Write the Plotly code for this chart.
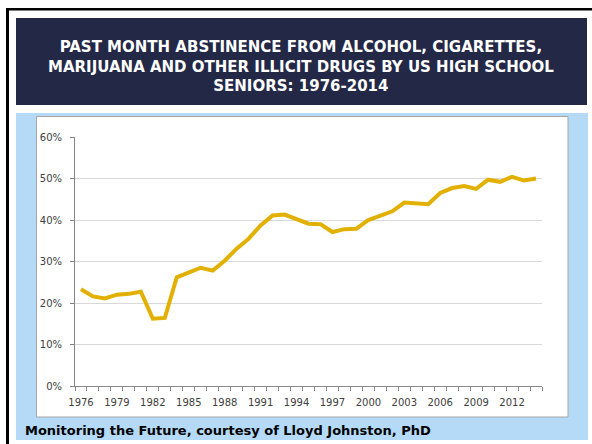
import plotly.graph_objects as go

# ---- data ----
years = list(range(1976, 2015))
abstinence_pct = [23.3, 21.6, 21.1, 22.0, 22.2, 22.7, 16.2, 16.4, 26.2, 27.3,
                  28.5, 27.8, 30.2, 33.1, 35.5, 38.7, 41.1, 41.3, 40.1, 39.1,
                  39.0, 37.1, 37.8, 37.9, 40.0, 41.0, 42.1, 44.2, 43.9, 43.8,
                  46.5, 47.7, 48.2, 47.5, 49.7, 49.2, 50.4, 49.5, 50.0]
x_tick_years = list(range(1976, 2014, 3))
y_ticks = [0, 0.1, 0.2, 0.3, 0.4, 0.5, 0.6]
title_text = ("PAST MONTH ABSTINENCE FROM ALCOHOL, CIGARETTES,<br>"
              "MARIJUANA AND OTHER ILLICIT DRUGS BY US HIGH SCHOOL<br>"
              "SENIORS: 1976-2014")
caption_text = "Monitoring the Future, courtesy of Lloyd Johnston, PhD"

W, H = 592, 444
L, R, T, B = 75, 50, 137, 58
PW, PH = W - L - R, H - T - B


def px(x):
    return (x - L) / PW


def py(y):
    return (H - B - y) / PH


fig = go.Figure()
fig.add_trace(go.Scatter(
    x=years, y=[v / 100 for v in abstinence_pct], mode="lines",
    line=dict(color="#E2B000", width=4), hoverinfo="x+y", showlegend=False))

shapes = []
# outer black frame
shapes.append(dict(type="rect", xref="paper", yref="paper", layer="below",
                   x0=px(6), x1=px(9), y0=py(444), y1=py(8),
                   fillcolor="#000000", line=dict(width=0)))
shapes.append(dict(type="rect", xref="paper", yref="paper", layer="below",
                   x0=px(6), x1=px(592), y0=py(10.5), y1=py(8),
                   fillcolor="#000000", line=dict(width=0)))
# navy banner
shapes.append(dict(type="rect", xref="paper", yref="paper", layer="below",
                   x0=px(16), x1=px(587), y0=py(105), y1=py(18),
                   fillcolor="#232847", line=dict(width=0)))
# light blue panel
shapes.append(dict(type="rect", xref="paper", yref="paper", layer="below",
                   x0=px(16), x1=px(588), y0=py(440), y1=py(113),
                   fillcolor="#B5DAF7", line=dict(width=0)))
# white chart box
shapes.append(dict(type="rect", xref="paper", yref="paper", layer="below",
                   x0=px(36.5), x1=px(568), y0=py(417), y1=py(116.5),
                   fillcolor="#FFFFFF", line=dict(color="#A6A6A6", width=1)))

fig.update_layout(
    width=W, height=H,
    margin=dict(l=L, r=R, t=T, b=B, pad=0),
    paper_bgcolor="#FFFFFF", plot_bgcolor="rgba(0,0,0,0)",
    shapes=shapes,
    font=dict(family="DejaVu Sans", size=10, color="#404040"),
    xaxis=dict(range=[1975.5, 2014.5], tickmode="array", tickvals=x_tick_years,
               ticktext=[str(y) for y in x_tick_years], ticks="",
               showgrid=False, zeroline=False, showline=True,
               linecolor="#868686", linewidth=1, ticklabelstandoff=7,
               minor=dict(ticks="outside", tick0=1975.5, dtick=1, ticklen=4,
                          tickcolor="#868686", showgrid=False),
               tickfont=dict(size=10, color="#404040")),
    yaxis=dict(range=[0, 0.6], tickmode="array", tickvals=y_ticks,
               tickformat=".0%", ticks="outside", ticklen=4,
               tickcolor="#868686", showgrid=True, gridcolor="#D9D9D9",
               gridwidth=1, zeroline=False, showline=True,
               linecolor="#868686", linewidth=1, ticklabelstandoff=6,
               tickfont=dict(size=10, color="#404040")),
    annotations=[
        dict(text=title_text, xref="paper", yref="paper", x=px(301), y=py(66.5),
             xanchor="center", yanchor="middle", showarrow=False, align="center",
             font=dict(family="DejaVu Sans", size=15, color="#FFFFFF", weight="bold")),
        dict(text=caption_text, xref="paper", yref="paper", x=px(23), y=py(430),
             xanchor="left", yanchor="middle", showarrow=False, align="left",
             font=dict(family="DejaVu Sans", size=13, color="#000000", weight="bold")),
    ],
)

fig.write_html("out.html", config={"displayModeBar": False},
               post_script="document.body.style.margin='0';document.body.style.padding='0';")
